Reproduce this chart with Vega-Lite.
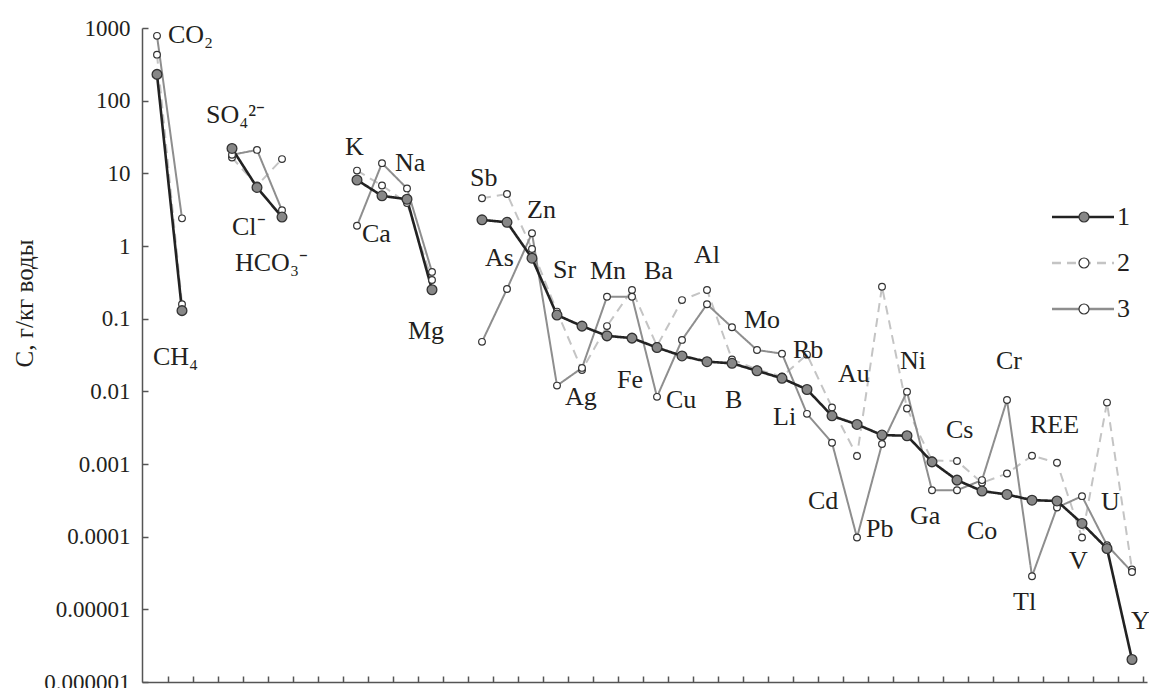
{
  "$schema": "https://vega.github.io/schema/vega-lite/v6.json",
  "width": 1005,
  "height": 654,
  "autosize": {"type": "none"},
  "padding": {"left": 142, "top": 28, "right": 2, "bottom": 6},
  "background": "white",
  "config": {
    "view": {"stroke": null},
    "font": "'Liberation Serif', 'Times New Roman', 'DejaVu Serif', serif",
    "axis": {"grid": false, "domainColor": "#555555", "domainWidth": 1.5, "tickColor": "#555555", "tickWidth": 1.5},
    "legend": {"padding": 0}
  },
  "datasets": {
    "main": [
      {"p":0,"s":"2","v":430,"g":"a"},{"p":1,"s":"2","v":0.158,"g":"a"},
      {"p":3,"s":"2","v":16.5,"g":"b"},{"p":4,"s":"2","v":6.8,"g":"b"},{"p":5,"s":"2","v":15.7,"g":"b"},
      {"p":8,"s":"2","v":10.9,"g":"c"},{"p":9,"s":"2","v":6.8,"g":"c"},{"p":10,"s":"2","v":3.9,"g":"c"},{"p":11,"s":"2","v":0.34,"g":"c"},
      {"p":13,"s":"2","v":4.55,"g":"d"},{"p":14,"s":"2","v":5.2,"g":"d"},{"p":15,"s":"2","v":0.91,"g":"d"},{"p":16,"s":"2","v":0.125,"g":"d"},
      {"p":17,"s":"2","v":0.0197,"g":"d"},{"p":18,"s":"2","v":0.079,"g":"d"},{"p":19,"s":"2","v":0.248,"g":"d"},{"p":20,"s":"2","v":0.042,"g":"d"},
      {"p":21,"s":"2","v":0.18,"g":"d"},{"p":22,"s":"2","v":0.248,"g":"d"},{"p":23,"s":"2","v":0.0275,"g":"d"},{"p":24,"s":"2","v":0.02,"g":"d"},
      {"p":25,"s":"2","v":0.016,"g":"d"},{"p":26,"s":"2","v":0.032,"g":"d"},{"p":27,"s":"2","v":0.006,"g":"d"},{"p":28,"s":"2","v":0.00129,"g":"d"},
      {"p":29,"s":"2","v":0.275,"g":"d"},{"p":30,"s":"2","v":0.0058,"g":"d"},{"p":31,"s":"2","v":0.00112,"g":"d"},{"p":32,"s":"2","v":0.0011,"g":"d"},
      {"p":33,"s":"2","v":0.00055,"g":"d"},{"p":34,"s":"2","v":0.00074,"g":"d"},{"p":35,"s":"2","v":0.0013,"g":"d"},{"p":36,"s":"2","v":0.00104,"g":"d"},
      {"p":37,"s":"2","v":0.0000975,"g":"d"},{"p":38,"s":"2","v":0.007,"g":"d"},{"p":39,"s":"2","v":0.0000353,"g":"d"},

      {"p":0,"s":"3","v":780,"g":"a"},{"p":1,"s":"3","v":2.4,"g":"a"},
      {"p":3,"s":"3","v":18,"g":"b"},{"p":4,"s":"3","v":21,"g":"b"},{"p":5,"s":"3","v":3.1,"g":"b"},
      {"p":8,"s":"3","v":1.9,"g":"c"},{"p":9,"s":"3","v":13.8,"g":"c"},{"p":10,"s":"3","v":6.2,"g":"c"},{"p":11,"s":"3","v":0.44,"g":"c"},
      {"p":13,"s":"3","v":0.048,"g":"d"},{"p":14,"s":"3","v":0.256,"g":"d"},{"p":15,"s":"3","v":1.5,"g":"d"},{"p":16,"s":"3","v":0.012,"g":"d"},
      {"p":17,"s":"3","v":0.021,"g":"d"},{"p":18,"s":"3","v":0.2,"g":"d"},{"p":19,"s":"3","v":0.2,"g":"d"},{"p":20,"s":"3","v":0.0084,"g":"d"},
      {"p":21,"s":"3","v":0.051,"g":"d"},{"p":22,"s":"3","v":0.158,"g":"d"},{"p":23,"s":"3","v":0.076,"g":"d"},{"p":24,"s":"3","v":0.037,"g":"d"},
      {"p":25,"s":"3","v":0.033,"g":"d"},{"p":26,"s":"3","v":0.0049,"g":"d"},{"p":27,"s":"3","v":0.00196,"g":"d"},{"p":28,"s":"3","v":0.0000975,"g":"d"},
      {"p":29,"s":"3","v":0.00188,"g":"d"},{"p":30,"s":"3","v":0.0099,"g":"d"},{"p":31,"s":"3","v":0.000436,"g":"d"},{"p":32,"s":"3","v":0.000436,"g":"d"},
      {"p":33,"s":"3","v":0.0006,"g":"d"},{"p":34,"s":"3","v":0.0076,"g":"d"},{"p":35,"s":"3","v":0.0000285,"g":"d"},{"p":36,"s":"3","v":0.000252,"g":"d"},
      {"p":37,"s":"3","v":0.000361,"g":"d"},{"p":38,"s":"3","v":0.0000764,"g":"d"},{"p":39,"s":"3","v":0.0000327,"g":"d"},

      {"p":0,"s":"1","v":230,"g":"a"},{"p":1,"s":"1","v":0.129,"g":"a"},
      {"p":3,"s":"1","v":22,"g":"b"},{"p":4,"s":"1","v":6.4,"g":"b"},{"p":5,"s":"1","v":2.5,"g":"b"},
      {"p":8,"s":"1","v":8.1,"g":"c"},{"p":9,"s":"1","v":4.9,"g":"c"},{"p":10,"s":"1","v":4.4,"g":"c"},{"p":11,"s":"1","v":0.25,"g":"c"},
      {"p":13,"s":"1","v":2.29,"g":"d"},{"p":14,"s":"1","v":2.12,"g":"d"},{"p":15,"s":"1","v":0.68,"g":"d"},{"p":16,"s":"1","v":0.112,"g":"d"},
      {"p":17,"s":"1","v":0.079,"g":"d"},{"p":18,"s":"1","v":0.058,"g":"d"},{"p":19,"s":"1","v":0.054,"g":"d"},{"p":20,"s":"1","v":0.040,"g":"d"},
      {"p":21,"s":"1","v":0.0307,"g":"d"},{"p":22,"s":"1","v":0.0256,"g":"d"},{"p":23,"s":"1","v":0.0243,"g":"d"},{"p":24,"s":"1","v":0.0192,"g":"d"},
      {"p":25,"s":"1","v":0.0151,"g":"d"},{"p":26,"s":"1","v":0.0106,"g":"d"},{"p":27,"s":"1","v":0.0046,"g":"d"},{"p":28,"s":"1","v":0.0035,"g":"d"},
      {"p":29,"s":"1","v":0.0025,"g":"d"},{"p":30,"s":"1","v":0.00245,"g":"d"},{"p":31,"s":"1","v":0.00107,"g":"d"},{"p":32,"s":"1","v":0.0006,"g":"d"},
      {"p":33,"s":"1","v":0.000424,"g":"d"},{"p":34,"s":"1","v":0.000381,"g":"d"},{"p":35,"s":"1","v":0.000318,"g":"d"},{"p":36,"s":"1","v":0.00031,"g":"d"},
      {"p":37,"s":"1","v":0.000152,"g":"d"},{"p":38,"s":"1","v":0.0000687,"g":"d"},{"p":39,"s":"1","v":0.00000204,"g":"d"}
    ],
    "labels": [
      {"t":"CO₂","p":0.44,"v":790},{"t":"CH₄","p":-0.16,"v":0.030},{"t":"SO₄²⁻","p":1.96,"v":62.5},
      {"t":"Cl⁻","p":3.0,"v":1.83},{"t":"HCO₃⁻","p":3.12,"v":0.575},{"t":"K","p":7.52,"v":22.8},
      {"t":"Ca","p":8.2,"v":1.45},{"t":"Na","p":9.52,"v":14},{"t":"Mg","p":10.04,"v":0.0667},
      {"t":"Sb","p":12.52,"v":8.5},{"t":"As","p":13.12,"v":0.675},{"t":"Zn","p":14.8,"v":3.09},
      {"t":"Sr","p":15.84,"v":0.47},{"t":"Mn","p":17.32,"v":0.45},{"t":"Ba","p":19.48,"v":0.45},
      {"t":"Al","p":21.48,"v":0.75},{"t":"Ag","p":16.32,"v":0.0083},{"t":"Fe","p":18.4,"v":0.0143},
      {"t":"Cu","p":20.36,"v":0.0076},{"t":"B","p":22.72,"v":0.0076},{"t":"Mo","p":23.48,"v":0.096},
      {"t":"Rb","p":25.44,"v":0.037},{"t":"Li","p":24.64,"v":0.0044},{"t":"Au","p":27.24,"v":0.0173},
      {"t":"Ni","p":29.72,"v":0.026},{"t":"Cr","p":33.56,"v":0.026},{"t":"Cd","p":26.04,"v":0.000308},
      {"t":"Pb","p":28.36,"v":0.000127},{"t":"Cs","p":31.56,"v":0.00293},{"t":"REE","p":34.92,"v":0.00344},
      {"t":"Ga","p":30.12,"v":0.000191},{"t":"Co","p":32.4,"v":0.000119},{"t":"U","p":37.76,"v":0.000299},
      {"t":"V","p":36.48,"v":0.0000459},{"t":"Tl","p":34.24,"v":0.0000125},{"t":"Y","p":38.96,"v":0.00000686}
    ]
  },
  "data": {"name": "main"},
  "encoding": {
    "x": {
      "field": "p", "type": "quantitative",
      "scale": {"domain": [-0.6, 39.6], "nice": false, "zero": false},
      "axis": {
        "title": null, "labels": false, "tickSize": -6,
        "values": [0.44,1.44,2.44,3.44,4.44,5.44,6.44,7.44,8.44,9.44,10.44,11.44,12.44,13.44,14.44,15.44,16.44,17.44,18.44,19.44,20.44,21.44,22.44,23.44,24.44,25.44,26.44,27.44,28.44,29.44,30.44,31.44,32.44,33.44,34.44,35.44,36.44,37.44,38.44,39.44]
      }
    },
    "y": {
      "field": "v", "type": "quantitative",
      "scale": {"type": "log", "domain": [0.000001, 1000], "nice": false},
      "axis": {
        "values": [0.000001,0.00001,0.0001,0.001,0.01,0.1,1,10,100,1000],
        "format": ".6~f", "tickSize": -6, "labelPadding": 18, "labelFlush": false, "labelOverlap": false,
        "labelFont": "'Liberation Serif', 'Times New Roman', serif", "labelFontSize": 23, "labelColor": "#231f20",
        "title": "C, г/кг воды", "titleFont": "'Liberation Serif', 'Times New Roman', serif", "titleFontSize": 25, "titleFontWeight": "normal",
        "titleColor": "#231f20", "titleX": -105, "titleY": 275
      }
    }
  },
  "layer": [
    {
      "transform": [{"filter": "datum.s != '1'"}],
      "mark": {"type": "line", "strokeWidth": 2, "strokeJoin": "round"},
      "encoding": {
        "stroke": {"field": "s", "type": "nominal", "scale": {"range": ["#222222", "#c4c4c4", "#8e8e8e"]},
          "legend": {"title": null, "orient": "none", "legendX": 928, "legendY": 176, "symbolType": "M-5,0H5", "symbolSize": 154,
            "symbolStrokeWidth": 2.3, "labelOffset": 21, "rowPadding": 20, "labelFont": "'Liberation Serif', 'Times New Roman', serif", "labelFontSize": 26, "labelColor": "#231f20"}},
        "strokeDash": {"field": "s", "type": "nominal", "scale": {"range": [[1,0],[9,6],[1,0]]}},
        "detail": {"field": "g"}
      }
    },
    {
      "transform": [{"filter": "datum.s == '1'"}],
      "mark": {"type": "line", "strokeWidth": 2.6, "strokeJoin": "round"},
      "encoding": {
        "stroke": {"field": "s", "type": "nominal"},
        "strokeDash": {"field": "s", "type": "nominal"},
        "detail": {"field": "g"}
      }
    },
    {
      "transform": [{"filter": "datum.s == '2' || datum.s == '3'"}],
      "mark": {"type": "point", "filled": true, "stroke": "#333333", "strokeWidth": 1.2, "opacity": 1, "size": 45},
      "encoding": {
        "fill": {"field": "s", "type": "nominal", "scale": {"range": ["#878787", "#ffffff", "#ffffff"]},
          "legend": {"title": null, "orient": "none", "legendX": 929, "legendY": 176, "symbolType": "circle",
            "symbolStrokeColor": "#333333", "symbolStrokeWidth": 1.2, "rowPadding": 20, "labelFont": "'Liberation Serif', 'Times New Roman', serif", "labelFontSize": 26, "labelOpacity": 0,
            "encode": {"symbols": {"update": {"size": {"signal": "datum.value === '1' ? 110 : 45"}, "stroke": {"value": "#333333"}, "opacity": {"value": 1}}}}}}
      }
    },
    {
      "transform": [{"filter": "datum.s === '1'"}],
      "mark": {"type": "point", "filled": true, "stroke": "#333333", "strokeWidth": 1.3, "opacity": 1, "size": 95},
      "encoding": {
        "fill": {"field": "s", "type": "nominal"}
      }
    },
    {
      "data": {"name": "labels"},
      "mark": {"type": "text", "align": "left", "baseline": "middle", "font": "'Liberation Serif', 'Times New Roman', serif", "fontSize": 26, "color": "#231f20"},
      "encoding": {"text": {"field": "t"}}
    }
  ]
}
